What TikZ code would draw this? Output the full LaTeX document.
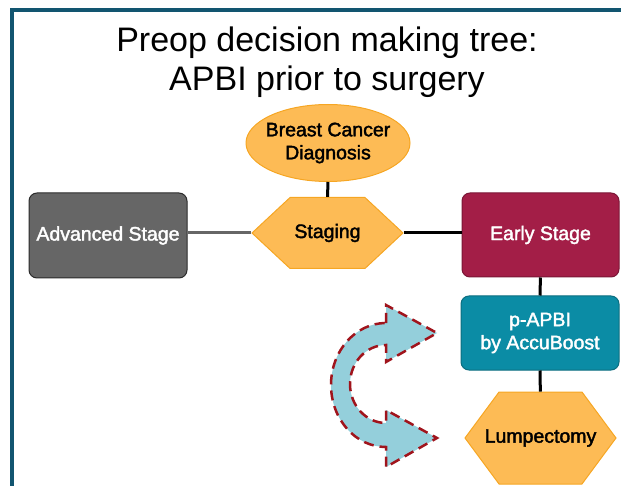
\documentclass[tikz,border=0pt]{standalone}
\usepackage{fontspec}
\setmainfont{Liberation Sans}
\newfontfamily\labelfont{Liberation Sans}[FakeBold=2]
\usetikzlibrary{shapes.geometric,shapes.symbols}

\definecolor{framecol}{RGB}{18,85,112}
\definecolor{orangefill}{RGB}{253,187,85}
\definecolor{orangeline}{RGB}{246,166,35}
\definecolor{greyfill}{RGB}{102,102,102}
\definecolor{greyline}{RGB}{43,43,43}
\definecolor{earlyfill}{RGB}{163,30,71}
\definecolor{earlyline}{RGB}{123,22,54}
\definecolor{apbifill}{RGB}{11,140,165}
\definecolor{apbiline}{RGB}{11,110,128}
\definecolor{arrowfill}{RGB}{148,207,219}
\definecolor{arrowline}{RGB}{160,20,28}

\tikzset{
  lbl/.style={font=\labelfont\fontsize{19.5}{23}\selectfont, align=center},
  box/.style={lbl, rectangle, rounded corners=8pt, line width=1pt, text=white, inner sep=0pt},
  hexa/.style={lbl, signal, signal to=west and east, fill=orangefill, draw=orangeline, line width=1pt, inner sep=0pt},
  link/.style={line width=3pt},
}

\begin{document}
\begin{tikzpicture}[x=1pt,y=-1pt]
\useasboundingbox (0,0) rectangle (621,486);
\draw[framecol, line width=4pt] (12,486) |- (621,10);

\node[align=center, font=\fontsize{34}{39}\selectfont] (title) at (327,62) {Preop decision making tree:\\APBI prior to surgery};

\node[lbl, ellipse, fill=orangefill, draw=orangeline, line width=1pt, minimum width=164pt, minimum height=77pt, inner xsep=-5pt, inner ysep=0pt] (diag) at (328,143) {Breast Cancer\\Diagnosis};
\node[hexa, minimum width=151pt, minimum height=71pt, signal pointer angle=86] (staging) at (327.5,233) {Staging};
\node[box, fill=greyfill, draw=greyline, minimum width=158pt, minimum height=85pt] (adv) at (108,235.5) {Advanced Stage};
\node[box, fill=earlyfill, draw=earlyline, minimum width=157pt, minimum height=84pt] (early) at (540.5,235) {Early Stage};
\node[box, fill=apbifill, draw=apbiline, minimum width=158pt, minimum height=74pt] (apbi) at (540,333) {p-APBI\\by AccuBoost};
\node[hexa, minimum width=151pt, minimum height=92pt, signal pointer angle=107, inner xsep=-15pt] (lump) at (540.5,438) {Lumpectomy};

\draw[link] (diag) -- (staging);
\draw[link, greyfill] (staging.west) -- (adv.east |- staging.west);
\draw[link] (staging.east) -- (early.west |- staging.east);
\draw[link] (early) -- (apbi);
\draw[link] (apbi) -- (lump);

\filldraw[fill=arrowfill, draw=arrowline, line width=2.5pt, dash pattern=on 10pt off 6pt]
  (386,323) -- (386,305) -- (437,333) -- (386,362) -- (386,345)
  arc[start angle=-90, end angle=-270, x radius=36, y radius=39]
  -- (386,410) -- (437,438) -- (386,467) -- (386,447)
  arc[start angle=90, end angle=270, x radius=55, y radius=62] -- cycle;
\end{tikzpicture}
\end{document}
